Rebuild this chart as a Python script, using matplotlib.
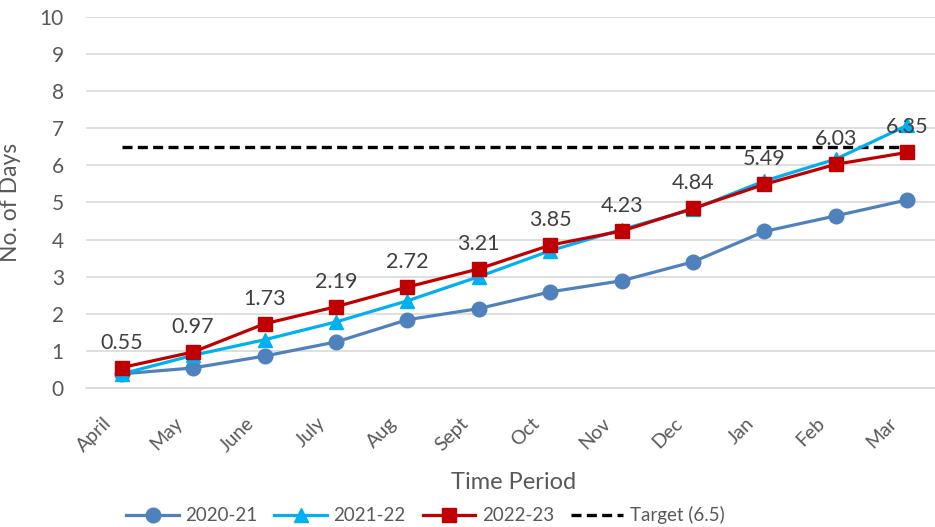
import numpy as np
from matplotlib import pyplot as plt
from matplotlib import transforms

months = ['April', 'May', 'June', 'July', 'Aug', 'Sept', 'Oct', 'Nov', 'Dec', 'Jan', 'Feb', 'Mar']
fy_2020 = [0.38, 0.54, 0.86, 1.24, 1.84, 2.14, 2.59, 2.89, 3.40, 4.22, 4.64, 5.07]
fy_2021 = [0.38, 0.88, 1.30, 1.78, 2.35, 3.00, 3.70, 4.27, 4.82, 5.58, 6.17, 7.08]
fy_2022 = [0.55, 0.97, 1.73, 2.19, 2.72, 3.21, 3.85, 4.23, 4.84, 5.49, 6.03, 6.35]
target = 6.5

text_col = '#595959'
plt.rcParams['font.family'] = ['Lato', 'DejaVu Sans']

fig = plt.figure(figsize=(9.35, 5.27), dpi=100)
ax = fig.add_axes([0.092, 0.2638, 0.9166, 0.704])

x = np.arange(len(months))
ax.plot(x, fy_2020, color='#4F81BD', lw=2.3, marker='o', ms=10.5, label='2020-21', zorder=3)
ax.plot(x, fy_2021, color='#00B0F0', lw=2.3, marker='^', ms=10.5, label='2021-22', zorder=4)
ax.plot(x, fy_2022, color='#C00000', lw=2.3, marker='s', ms=10.5, label='2022-23', zorder=5)
ax.plot(x, [target] * len(x), color='black', lw=2.4, ls=(0, (3, 1.6)), label='Target (6.5)', zorder=2)

# data labels on the 2022-23 series
for xi, v in zip(x, fy_2022):
    ax.annotate('{:.2f}'.format(v), (xi, v), xytext=(0, 18), textcoords='offset points',
                ha='center', va='center', fontsize=15.5, color='#404040', zorder=6)

ax.set_xlim(-0.5, 11.5)
ax.set_ylim(0, 10)
ax.set_yticks(range(0, 11))
ax.set_xticks(x)
ax.set_xticklabels(months)
ax.grid(axis='y', color='#D9D9D9', lw=1.2)
ax.set_axisbelow(True)
for s in ['top', 'right', 'left']:
    ax.spines[s].set_visible(False)
ax.spines['bottom'].set_color('#D9D9D9')
ax.spines['bottom'].set_linewidth(1.2)
ax.tick_params(axis='both', length=0, colors=text_col, labelsize=15)
ax.tick_params(axis='y', pad=16)

offset = transforms.ScaledTranslation(-14 / 72, -15.5 / 72, fig.dpi_scale_trans)
for lab in ax.get_xticklabels():
    lab.set_rotation(45)
    lab.set_ha('right')
    lab.set_va('top')
    lab.set_rotation_mode('anchor')
    lab.set_fontsize(14)
    lab.set_transform(lab.get_transform() + offset)

ax.set_ylabel('No. of Days', fontsize=16.5, color=text_col)
ax.yaxis.set_label_coords(-0.076, 0.5)
fig.text(0.549, 0.085, 'Time Period', ha='center', va='center', fontsize=17, color=text_col)

leg = fig.legend(loc='center', bbox_to_anchor=(0.455, 0.022), ncol=4, frameon=False,
                 fontsize=13.5, handlelength=2.8, columnspacing=0.9, handletextpad=0.35)
for t in leg.get_texts():
    t.set_color(text_col)

fig.savefig('out.png', dpi=100)
